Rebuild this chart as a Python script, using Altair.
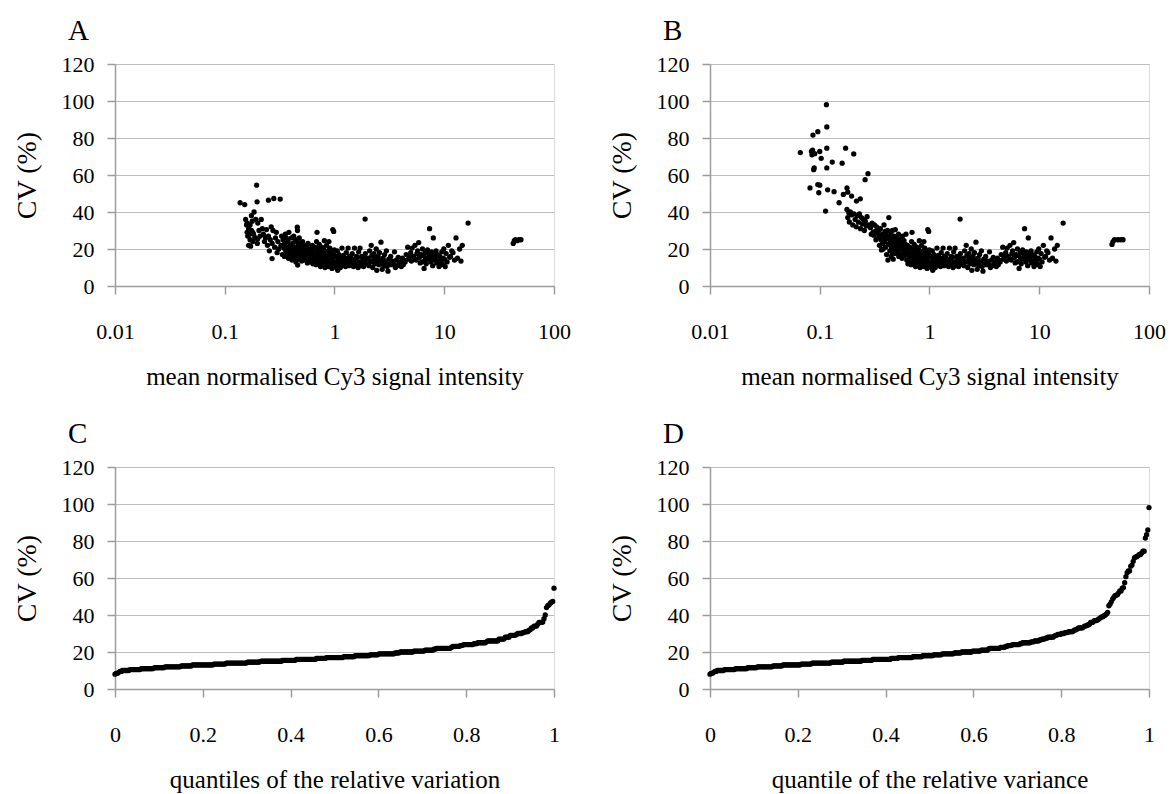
import altair as alt
import pandas as pd

FONT = "Liberation Serif"
GRID = "#bdbdbd"
AXISC = "#9c9c9c"

# ---------------- Panel A: low-intensity points ----------------
A1_X = [0.138, 0.152, 0.155, 0.158, 0.160, 0.160, 0.162, 0.165, 0.165, 0.168,
        0.170, 0.170, 0.172, 0.175, 0.175, 0.178, 0.180, 0.180, 0.183, 0.185,
        0.188, 0.190, 0.192, 0.195, 0.197, 0.198, 0.200, 0.200, 0.205, 0.210]
A1_CV = [45, 44, 36, 33, 34, 29, 27, 31, 22, 28,
         33, 25, 21.5, 38, 30, 35, 24, 29, 28, 40,
         26, 26, 36, 54.5, 45.5, 23, 34, 25.5, 30, 27]

A2_X = [0.215, 0.220, 0.225, 0.230, 0.235, 0.240, 0.245, 0.250, 0.250, 0.255,
        0.260, 0.265, 0.270, 0.270, 0.275, 0.280, 0.285, 0.290, 0.295, 0.300,
        0.305, 0.310, 0.320, 0.325, 0.330, 0.335, 0.340, 0.345]
A2_CV = [36, 31, 28, 24, 26, 30.5, 22, 46.4, 27, 19,
         25, 32, 14.8, 23, 30, 47.3, 21, 26, 29, 18,
         24, 20, 47, 22, 27, 17, 25, 20.5]

A3_X = [0.350, 0.352, 0.356, 0.360, 0.364, 0.370, 0.373, 0.378, 0.381, 0.384,
        0.390, 0.393, 0.398, 0.401, 0.405, 0.410, 0.413, 0.418, 0.421, 0.425,
        0.430, 0.434, 0.438, 0.441, 0.445, 0.449, 0.452, 0.455, 0.458, 0.460,
        0.462, 0.465, 0.468, 0.471, 0.474, 0.477, 0.480, 0.484, 0.488, 0.491,
        0.494, 0.498, 0.502, 0.506, 0.512, 0.516, 0.520, 0.524, 0.533, 0.538,
        0.543, 0.552, 0.556, 0.561, 0.566, 0.574, 0.579, 0.585, 0.593, 0.598,
        0.603, 0.609]
A3_CV = [16, 23, 28, 19, 26, 17, 21, 24, 15, 29,
         18, 22, 20, 16.5, 26, 14, 19.5, 23, 17.5, 27,
         21, 15.5, 18.5, 25, 13, 20, 16, 24, 31.8, 30,
         11.3, 17, 22, 19, 14.5, 26, 18, 15, 21, 16.5,
         23.5, 19, 13.5, 20.5, 24, 17, 15.5, 22, 18, 14,
         20, 16, 21.5, 19, 12.5, 23, 15, 17.5, 20, 13,
         16.5, 18.5]

A_FAR_X = [42.5, 43.5, 44.5, 46, 48, 50]
A_FAR_CV = [23, 24.5, 25, 24.5, 25, 25]

# ---------------- Intensity > 0.6 (alike in A and B) ----------------
CORE1_X = [0.620, 0.624, 0.628, 0.636, 0.640, 0.645, 0.655, 0.660, 0.665, 0.674,
           0.680, 0.686, 0.693, 0.698, 0.703, 0.708, 0.715, 0.720, 0.726, 0.735,
           0.740, 0.746, 0.754, 0.760, 0.766, 0.775, 0.780, 0.786, 0.793, 0.798,
           0.803, 0.808, 0.815, 0.820, 0.826, 0.835, 0.840, 0.846, 0.855, 0.860,
           0.866, 0.874, 0.879, 0.884, 0.889, 0.896, 0.901, 0.907, 0.922, 0.928,
           0.934, 0.945, 0.950, 0.956, 0.965, 0.970, 0.976, 0.983, 0.988, 0.992,
           0.997]
CORE1_CV = [14, 19, 22, 12, 17, 20.5, 15.5, 21, 13, 18,
            11.5, 24, 29, 16, 14.5, 20, 12.5, 17.5, 22.5, 15,
            19.5, 10.5, 13.5, 18, 21, 16.5, 11, 14, 20, 12,
            17, 24.5, 15, 10, 13, 18.5, 14.5, 22, 11.5, 16,
            19, 13, 10.5, 17.5, 24, 15, 12, 20.5, 14, 18,
            11, 16.5, 9.5, 13.5, 30.5, 12.5, 15.5, 29.5, 17, 11,
            19.5]

CORE2_X = [1.02, 1.03, 1.04, 1.05, 1.06, 1.07, 1.08, 1.09, 1.10, 1.12,
           1.13, 1.14, 1.16, 1.17, 1.18, 1.20, 1.21, 1.23, 1.25, 1.26,
           1.28, 1.30, 1.32, 1.33, 1.36, 1.37, 1.39, 1.42, 1.44, 1.45,
           1.49, 1.50, 1.52, 1.55, 1.57, 1.58, 1.61, 1.62, 1.64, 1.66,
           1.69, 1.71, 1.73, 1.77, 1.79, 1.81, 1.84, 1.86, 1.88, 1.90,
           1.91, 1.94, 1.97]
CORE2_CV = [13, 16, 10, 12, 19, 8.5, 14.5, 11, 17, 13.5,
            10, 15.5, 12, 20.5, 14, 11.5, 16.5, 13, 15, 10.5,
            18, 12.5, 14, 20.5, 11, 16, 13.5, 15, 12, 17.5,
            10.5, 13, 20.5, 14.5, 11.5, 16, 12, 15.5, 10, 18.5,
            13, 20.5, 11, 16, 12.5, 14, 10.5, 15, 13, 36.2,
            17.5, 12, 14.5]

CORE3_X = [2.03, 2.06, 2.09, 2.13, 2.16, 2.19, 2.23, 2.26, 2.29, 2.33,
           2.36, 2.40, 2.43, 2.46, 2.50, 2.53, 2.57, 2.61, 2.65, 2.68,
           2.72, 2.77, 2.81, 2.86, 2.92, 2.97, 3.02, 3.07, 3.12, 3.18,
           3.25, 3.31, 3.38, 3.45, 3.52, 3.59, 3.66, 3.73, 3.81, 3.90,
           3.98, 4.06, 4.15, 4.23, 4.31, 4.40, 4.50]
CORE3_CV = [15, 11, 19, 13, 22, 16.5, 10, 14, 17.5, 12,
            15.5, 20, 8.5, 13.5, 16, 11.5, 18, 14, 23.7, 12.5,
            9, 15, 11, 17, 13, 19, 10.5, 8, 14.5, 12,
            16, 11.5, 13.5, 12, 18.5, 10, 14, 11, 15.5, 12.5,
            13, 10.5, 15, 11.5, 14, 13, 17]

CORE4_X = [4.65, 4.72, 4.80, 4.95, 5.02, 5.10, 5.25, 5.33, 5.41, 5.55,
           5.63, 5.72, 5.85, 5.94, 6.03, 6.15, 6.24, 6.33, 6.45, 6.55,
           6.65, 6.75, 6.85, 6.95, 7.05, 7.15, 7.25, 7.35, 7.45, 7.55,
           7.65, 7.75, 7.85, 7.95, 8.05, 8.15, 8.30, 8.42, 8.55, 8.70,
           8.83, 8.96, 9.10, 9.23, 9.36, 9.50, 9.63, 9.76, 9.90, 10.05,
           10.2, 10.4, 10.6, 10.9, 11.2, 11.4, 11.7, 12.0, 12.4, 12.8,
           13.2, 13.8, 14.2, 14.6, 16.5]
CORE4_CV = [21, 14.5, 16, 18, 13.5, 20.5, 16, 15, 22, 14,
            17.5, 19, 23.5, 15.5, 12.5, 17, 13, 20, 16.5, 9.5,
            14, 18, 12, 15, 19.5, 14.5, 17, 31, 16, 13,
            18.5, 15, 11, 26, 17, 14, 15.5, 19, 12.5, 17,
            13.5, 10.5, 16, 14, 11.5, 18.5, 12, 15, 20, 14.5,
            10.5, 17.5, 13, 22, 15.5, 16, 19, 18, 14, 26,
            15, 20, 13.5, 22, 34]

# ---------------- Panel B: low-intensity points ----------------
B1_X = [0.0665, 0.0815, 0.084, 0.085, 0.086, 0.0867, 0.096, 0.088, 0.089, 0.096,
        0.100, 0.098, 0.100, 0.103, 0.115, 0.116, 0.116, 0.116, 0.113, 0.118,
        0.130, 0.135, 0.150, 0.160, 0.172, 0.164, 0.177, 0.180, 0.195, 0.204,
        0.216, 0.234, 0.259, 0.275, 0.177, 0.090]
B1_CV = [72.1, 53, 72.7, 70.9, 73.5, 81.6, 83.4, 62.9, 63.8, 54.8,
         54.5, 50.4, 72.7, 69, 98, 86, 74.5, 63.8, 40.5, 52,
         67, 51, 45, 66.4, 74.5, 49.5, 53, 50.7, 48.6, 71.4,
         45.9, 47.1, 57.5, 60.7, 41.4, 71.5]

B2_X = [0.180, 0.184, 0.186, 0.190, 0.195, 0.200, 0.205, 0.210, 0.215, 0.220,
        0.225, 0.230, 0.235, 0.240, 0.245, 0.250, 0.255, 0.260, 0.265, 0.270,
        0.280, 0.290, 0.295, 0.300, 0.305, 0.310, 0.315, 0.320, 0.325, 0.330,
        0.335, 0.340, 0.345, 0.350]
B2_CV = [37, 39.6, 34.6, 40, 38.5, 33, 39, 36, 32, 38,
         34.5, 39, 31, 37, 33.5, 36, 30, 35, 32.5, 37.5,
         33, 31.5, 28, 34, 29, 27.5, 33, 29.5, 25, 32,
         28.5, 31, 26.5, 30.5]

B3_X = [0.350, 0.353, 0.357, 0.361, 0.365, 0.370, 0.374, 0.378, 0.381, 0.385,
        0.390, 0.394, 0.398, 0.402, 0.406, 0.410, 0.414, 0.418, 0.422, 0.426,
        0.430, 0.435, 0.439, 0.443, 0.447, 0.450, 0.453, 0.457, 0.460, 0.463,
        0.467, 0.470, 0.474, 0.477, 0.480, 0.484, 0.488, 0.491, 0.495, 0.499,
        0.503, 0.507, 0.513, 0.517, 0.521, 0.525, 0.534, 0.539, 0.544, 0.553,
        0.557, 0.562, 0.567, 0.575, 0.580, 0.586, 0.594, 0.599, 0.604, 0.610]
B3_CV = [22, 27, 31, 25, 19.5, 28, 23, 20, 26, 33,
         24, 29.5, 21, 27.5, 17, 25.5, 30, 14, 22.5, 37,
         26, 19, 23.5, 28, 16, 21, 25, 18.5, 30, 24,
         14.5, 22, 27, 19.5, 25.5, 17.5, 30.5, 23, 20, 26.5,
         18, 21.5, 24, 19, 28, 16, 22, 17, 25.5, 20,
         23.5, 15, 27, 18.5, 21, 24.5, 16.5, 19.5, 22.5, 28]

B_FAR_X = [46, 47, 48.5, 52, 55, 58]
B_FAR_CV = [22.5, 24, 25, 25, 25, 25]

CORE_X = CORE1_X + CORE2_X + CORE3_X + CORE4_X
CORE_CV = CORE1_CV + CORE2_CV + CORE3_CV + CORE4_CV

a_df = pd.DataFrame({"x": A1_X + A2_X + A3_X + CORE_X + A_FAR_X,
                     "cv": A1_CV + A2_CV + A3_CV + CORE_CV + A_FAR_CV})
b_df = pd.DataFrame({"x": B1_X + B2_X + B3_X + CORE_X + B_FAR_X,
                     "cv": B1_CV + B2_CV + B3_CV + CORE_CV + B_FAR_CV})

Y_TICKS = [0, 20, 40, 60, 80, 100, 120]
LOG_TICKS = [0.01, 0.1, 1, 10, 100]
Q_TICKS = [0, 0.2, 0.4, 0.6, 0.8, 1]

W, H = 439, 222
DOT = 28


def y_enc():
    return alt.Y("cv:Q", scale=alt.Scale(domain=[0, 120], nice=False),
                 axis=alt.Axis(values=Y_TICKS, title="CV (%)", grid=True,
                               gridColor=GRID, gridWidth=1.2,
                               domainColor=AXISC, domainWidth=1.5,
                               tickColor=AXISC, tickWidth=1.5, tickSize=8,
                               labelPadding=13, labelFont=FONT, labelFontSize=22,
                               labelColor="black", titleFont=FONT, titleFontSize=28,
                               titleFontWeight="normal", titleColor="black",
                               titlePadding=20))


def x_axis(values, title):
    return alt.Axis(values=values, format="~g", title=title, grid=False,
                    domainColor=AXISC, domainWidth=1.5, tickColor=AXISC,
                    tickWidth=1.5, tickSize=8, labelPadding=27, labelFont=FONT,
                    labelFontSize=22, labelColor="black", labelFlush=False,
                    titleFont=FONT, titleFontSize=25, titleFontWeight="normal",
                    titleColor="black", titlePadding=22)


def letter(t):
    return alt.TitleParams(text=t, anchor="start", frame="group", dx=-47,
                           offset=7, font=FONT,
                           fontSize=29, fontWeight="normal", color="black")


def scatter(df, t):
    return alt.Chart(df, title=letter(t)).mark_circle(
        size=DOT, color="black", opacity=1).encode(
        x=alt.X("x:Q", scale=alt.Scale(type="log", domain=[0.01, 100]),
                axis=x_axis(LOG_TICKS, "mean normalised Cy3 signal intensity")),
        y=y_enc()).properties(width=W, height=H)


def quantile(df, t, xtitle):
    return alt.Chart(df, title=letter(t)).transform_window(
        rn="row_number()", sort=[alt.SortField("cv", order="ascending")]
    ).transform_joinaggregate(n="count()").transform_calculate(
        q="(datum.rn - 1) / (datum.n - 1)"
    ).mark_circle(size=DOT, color="black", opacity=1).encode(
        x=alt.X("q:Q", scale=alt.Scale(domain=[0, 1], nice=False),
                axis=x_axis(Q_TICKS, xtitle)),
        y=y_enc()).properties(width=W, height=H)


chart = alt.concat(
    scatter(a_df, "A"), scatter(b_df, "B"),
    quantile(a_df, "C", "quantiles of the relative variation"),
    quantile(b_df, "D", "quantile of the relative variance"),
    columns=2, spacing={"row": 29, "column": 36}
).properties(
    padding={"left": 12, "top": 16, "right": 5, "bottom": 5}
).configure_view(stroke=AXISC, strokeWidth=1.5).configure(background="white")

chart.save("out.html", embed_options={"renderer": "svg", "actions": False})
